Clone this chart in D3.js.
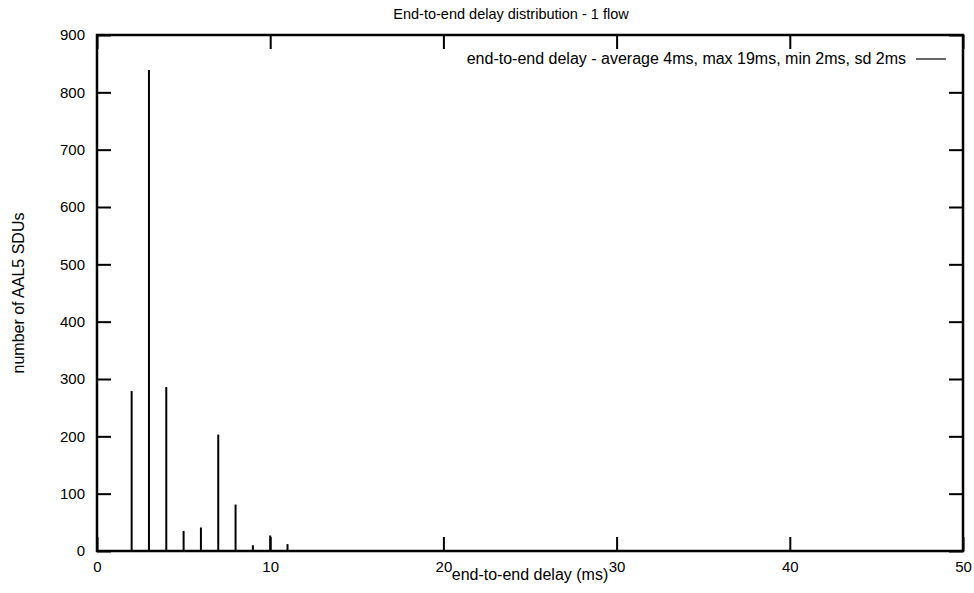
<!DOCTYPE html>
<html>
<head>
<meta charset="utf-8">
<script src="https://cdn.jsdelivr.net/npm/d3@7"></script>
<style>
  body { margin: 0; background: #fff; }
  text { font-family: "Liberation Sans", Arial, sans-serif; fill: #000; }
</style>
</head>
<body>
<div id="chart"></div>
<script>
// data
const delays = [2, 3, 4, 5, 6, 7, 8, 9, 10, 11];
const counts = [279, 839, 286, 35, 41, 203, 81, 10, 27, 12];
const xTicks = [0, 10, 20, 30, 40, 50];
const yTicks = [0, 100, 200, 300, 400, 500, 600, 700, 800, 900];
const titleText = "End-to-end delay distribution - 1 flow";
const legendText = "end-to-end delay - average 4ms, max 19ms, min 2ms, sd 2ms";

const W = 974, H = 593;
const margin = {top: 35, right: 11, bottom: 42, left: 97};
const width = W - margin.left - margin.right,
      height = H - margin.top - margin.bottom;

const svg = d3.select("#chart").append("svg")
    .attr("width", W).attr("height", H)
  .append("g")
    .attr("transform", `translate(${margin.left},${margin.top})`);

const x = d3.scaleLinear().domain([0, 50]).range([0, width]);
const y = d3.scaleLinear().domain([0, 900]).range([height, 0]);

// ticks on all four sides, pointing inward
const tk = 14;
svg.append("g")
  .attr("transform", `translate(0,${height})`)
  .call(d3.axisBottom(x).tickValues(xTicks).tickSizeInner(-tk).tickSizeOuter(0))
  .call(g => g.selectAll("text").attr("dy", null).attr("y", 21));
svg.append("g")
  .call(d3.axisTop(x).tickValues(xTicks).tickSizeInner(-tk).tickSizeOuter(0).tickFormat(""));
svg.append("g")
  .call(d3.axisLeft(y).tickValues(yTicks).tickSizeInner(-tk).tickSizeOuter(0))
  .call(g => g.selectAll("text").attr("x", -12));
svg.append("g")
  .attr("transform", `translate(${width},0)`)
  .call(d3.axisRight(y).tickValues(yTicks).tickSizeInner(-tk).tickSizeOuter(0).tickFormat(""));

svg.selectAll(".domain").remove();
svg.selectAll(".tick line").attr("stroke", "#000").attr("stroke-width", 2);
svg.selectAll(".tick text").style("font-size", "15px");

// frame
svg.append("rect")
  .attr("width", width).attr("height", height)
  .attr("fill", "none").attr("stroke", "#000").attr("stroke-width", 2.5);

// impulses
svg.selectAll(".bar")
  .data(delays)
  .enter().append("line")
    .attr("class", "bar")
    .attr("x1", d => x(d)).attr("x2", d => x(d))
    .attr("y1", y(0))
    .attr("y2", (d, i) => y(counts[i]))
    .attr("stroke", "#000").attr("stroke-width", 2);

// legend
svg.append("text")
  .attr("x", 809).attr("y", 29)
  .attr("text-anchor", "end")
  .style("font-size", "16px")
  .text(legendText);
svg.append("line")
  .attr("x1", 819).attr("x2", 849)
  .attr("y1", 24).attr("y2", 24)
  .attr("stroke", "#000").attr("stroke-width", 1.2);

// title
svg.append("text")
  .attr("x", width / 2 - 19).attr("y", -16)
  .attr("text-anchor", "middle")
  .style("font-size", "14.5px")
  .text(titleText);

// axis labels
svg.append("text")
  .attr("x", width / 2).attr("y", height + 29)
  .attr("text-anchor", "middle")
  .style("font-size", "16px")
  .text("end-to-end delay (ms)");

svg.append("text")
  .attr("transform", "rotate(-90)")
  .attr("x", -height / 2).attr("y", -margin.left + 24)
  .attr("text-anchor", "middle")
  .style("font-size", "16px")
  .text("number of AAL5 SDUs");
</script>
</body>
</html>
